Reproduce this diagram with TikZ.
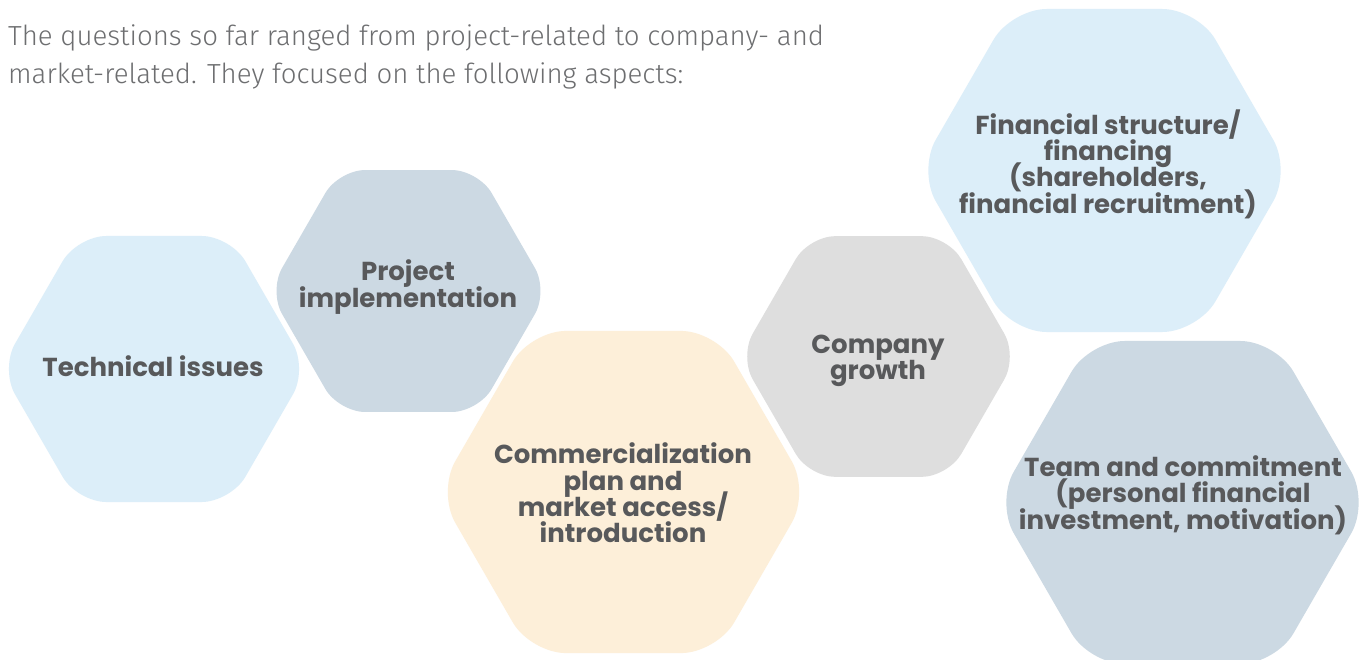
\documentclass[tikz,border=0pt]{standalone}
\usepackage{fontspec}
\setmainfont{Poppins}
\newfontfamily\parafont{Fira Sans Light}
\newfontfamily\labelfont{Poppins}
\definecolor{hexblue}{HTML}{DCEEF9}
\definecolor{hexslate}{HTML}{CCD9E3}
\definecolor{hexcream}{HTML}{FDEFD9}
\definecolor{hexgrey}{HTML}{DEDEDE}
\definecolor{lbltext}{HTML}{58595B}
\definecolor{paratext}{HTML}{6D6E70}
\newcommand\lblfont{\labelfont\bfseries\fontsize{26}{26.3}\selectfont\setlength{\lineskiplimit}{-100pt}}
\newcommand\hexshape[4]{% colour, cx, cy, R
  \fill[#1, rounded corners=0.19*#4pt]
    ({#2+#4},{#3}) -- ({#2+0.5*#4},{#3+0.866*#4}) -- ({#2-0.5*#4},{#3+0.866*#4})
    -- ({#2-#4},{#3}) -- ({#2-0.5*#4},{#3-0.866*#4}) -- ({#2+0.5*#4},{#3-0.866*#4}) -- cycle;}
\begin{document}
\begin{tikzpicture}[x=1pt,y=-1pt,
  lbl/.style={align=center, text=lbltext, inner sep=0pt, font=\lblfont},
  para/.style={anchor=base west, text=paratext, inner sep=0pt,
    font=\parafont\fontsize{27.6}{38}\selectfont}]
\useasboundingbox[fill=white] (0,0) rectangle (1363,659);
\hexshape{hexblue}{154}{369}{153.6}
\hexshape{hexslate}{408.5}{291}{139.7}
\hexshape{hexcream}{623.5}{492}{186}
\hexshape{hexgrey}{878.5}{356.5}{139}
\hexshape{hexblue}{1104.5}{170.5}{186.5}
\hexshape{hexslate}{1182.5}{502.5}{186.5}
\node[para] (p1) at (8,45) {The questions so far ranged from project-related to company- and};
\node[para] (p2) at (8,83) {market-related. They focused on the following aspects:};
\node[lbl] (t1) at (153,366) {Technical issues};
\node[lbl] (t2) at (408,287) {Project\\implementation};
\node[lbl] (t3) at (623,493) {Commercialization\\plan and\\market access/\\introduction};
\node[lbl] (t4) at (878,361) {Company\\growth};
\node[lbl] (t5) at (1108,164) {Financial structure/\\financing\\(shareholders,\\financial recruitment)};
\node[lbl] (t6) at (1183,495) {Team and commitment\\(personal financial\\investment, motivation)};
\end{tikzpicture}
\end{document}
